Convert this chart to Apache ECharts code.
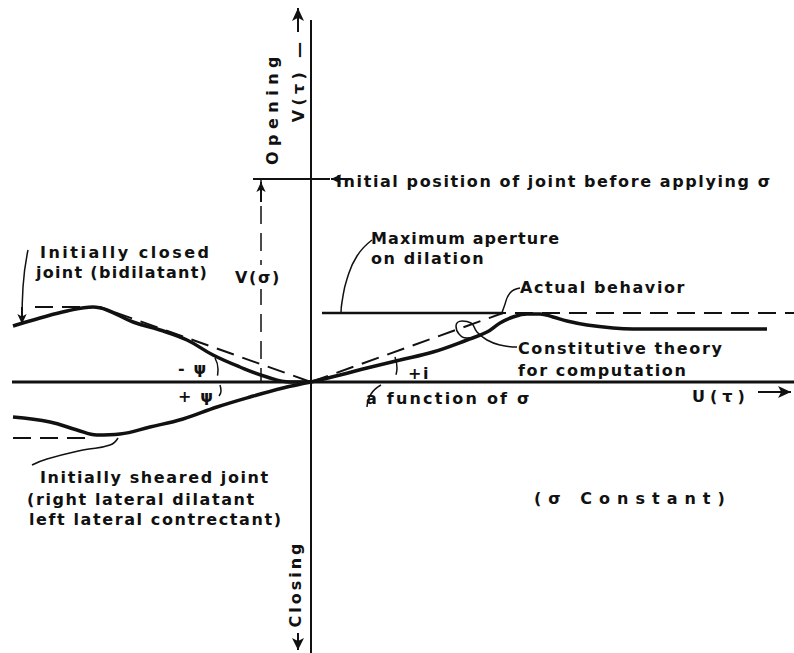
<!DOCTYPE html>
<html>
<head>
<meta charset="utf-8">
<title>Joint opening vs shear</title>
<script src="https://cdn.jsdelivr.net/npm/echarts@6/dist/echarts.min.js"></script>
<style>
  html, body { margin: 0; padding: 0; background: #fff; }
  #chart { width: 794px; height: 653px; }
  #chart text { letter-spacing: 1.6px; }
</style>
</head>
<body>
<div id="chart"></div>
<script>
// u = shear displacement, v = normal displacement (opening positive)
var uAxis = [[-299, 0], [483, 0]]
var vAxis = [[0, 362], [0, -271]]

var actualBehavior = [[0, 0], [29, 7], [56, 14], [89, 22], [122, 30], [156, 42], [176, 50], [189, 59],
  [202, 65], [216, 68], [229, 68], [242, 65], [256, 61], [276, 57], [302, 54], [322, 53], [456, 53]]
var constitutiveTheory = [[0, 0], [192, 69], [483, 69]]
var maxAperture = [[11, 69], [192, 69]]

var closedJoint = [[-298, 56], [-271, 64], [-244, 71], [-218, 75], [-204, 72], [-178, 60], [-151, 52],
  [-124, 42], [-98, 27], [-71, 15], [-44, 5], [-21, 0], [0, 0]]
var closedJointTheory = [[-276, 75], [-211, 75], [0, 0]]

var shearedJoint = [[-298, -35], [-261, -40], [-234, -48], [-214, -53], [-191, -52], [-161, -45],
  [-128, -37], [-94, -25], [-61, -15], [-28, -6], [0, 0]]
var shearedResidual = [[-298, -56], [-226, -56]]

var initialPosition = [[-58, 203], [19, 203]]
var vSigma = [[-50, 203], [-50, 0]]

var angleNegPsi = [[-96, 24], [-93, 13], [-94, 3]]
var anglePosPsi = [[-91, -3], [-90, -9], [-92, -14]]
var angleI = [[84, 25], [86, 14], [84, 4]]

var leaderMaxAperture = [[61, 142], [46, 126], [36, 103], [31, 80], [30, 69]]
var leaderActual = [[209, 94], [199, 89], [193, 75], [191, 69]]
var leaderTheory = [[206, 35], [189, 37], [176, 42], [166, 50], [160, 59], [151, 61], [145, 56],
  [148, 48], [156, 44], [165, 45]]
var leaderClosed = [[-283, 132], [-288, 95], [-289, 62]]
var leaderSheared = [[-279, -83], [-264, -77], [-228, -68], [-201, -63], [-193, -56]]
var leaderFunction = [[56, -25], [60, -12], [70, -3]]

var ink = '#111'
var font = 'bold 16px "DejaVu Sans"'

// letter spacing of the lettering, px (default in the css above)
var spacing = {
  'Opening': 5.5,
  'V(τ) —': 4.3,
  'Closing': 3,
  'U(τ)': 5,
  '(σ Constant)': 7,
  'Initially closed': 2.5,
  'a function of σ': 2.2,
  'Maximum aperture': 1.1,
  'joint (bidilatant)': 1.3
}

function path(data, opts) {
  opts = opts || {}
  return {
    type: 'line',
    data: data,
    symbol: 'none',
    smooth: opts.smooth || false,
    silent: true,
    lineStyle: {
      color: ink,
      width: opts.width || 2,
      type: opts.dashed ? [18, 9] : 'solid'
    },
    z: opts.z || 2
  }
}

function arrow(from, to, size) {
  return [
    { coord: from, symbol: 'none' },
    { coord: to, symbol: 'arrow', symbolSize: size || [9, 13] }
  ]
}

function text(str, x, y, rot, align) {
  return {
    type: 'text',
    x: x,
    y: y,
    rotation: rot || 0,
    style: {
      text: str,
      font: font,
      fill: ink,
      align: align || 'left',
      verticalAlign: 'middle'
    },
    z: 10
  }
}

var chart = echarts.init(document.getElementById('chart'), null, { renderer: 'svg' })

chart.setOption({
  animation: false,
  backgroundColor: '#fff',
  grid: { left: 0, right: 0, top: 0, bottom: 0 },
  xAxis: { type: 'value', min: -311, max: 483, show: false },
  yAxis: { type: 'value', min: -271, max: 382, show: false },
  series: [
    path(uAxis, { width: 2.8 }),
    path(vAxis, { width: 2 }),
    path(initialPosition, { width: 2 }),
    path(vSigma, { width: 1.5, dashed: true }),
    path(maxAperture, { width: 2.5 }),
    path(constitutiveTheory, { width: 2, dashed: true }),
    path(actualBehavior, { width: 3.5, smooth: 0.4, z: 3 }),
    path(closedJointTheory, { width: 2, dashed: true }),
    path(closedJoint, { width: 3.5, smooth: 0.4, z: 3 }),
    path(shearedResidual, { width: 2, dashed: true }),
    path(shearedJoint, { width: 3.5, smooth: 0.4, z: 3 }),
    path(angleNegPsi, { width: 1.5, dashed: true, smooth: true }),
    path(anglePosPsi, { width: 1.5, smooth: true }),
    path(angleI, { width: 1.5, dashed: true, smooth: true }),
    path(leaderMaxAperture, { width: 1.5, smooth: 0.5 }),
    path(leaderActual, { width: 1.5, smooth: 0.5 }),
    path(leaderTheory, { width: 1.5, smooth: 0.5 }),
    path(leaderClosed, { width: 1.5, smooth: 0.5 }),
    path(leaderSheared, { width: 1.5, smooth: 0.5 }),
    path(leaderFunction, { width: 1.5, smooth: 0.5 }),
    {
      // arrow heads
      type: 'line',
      data: [],
      silent: true,
      markLine: {
        silent: true,
        animation: false,
        label: { show: false },
        lineStyle: { color: ink, width: 2, type: 'solid' },
        data: [
          arrow([-13, 350], [-13, 374]),
          arrow([-13, -251], [-13, -268], [9, 12]),
          arrow([447, -10], [480, -10]),
          arrow([-50, 180], [-50, 200], [7, 10]),
          arrow([-289, 75], [-289, 58], [7, 10]),
          arrow([40, 203], [20, 203], [7, 10])
        ]
      }
    }
  ],
  graphic: [
    text('Opening', 272, 108, Math.PI / 2, 'center'),
    text('V(τ) —', 298, 80, Math.PI / 2, 'center'),
    text('Closing', 295, 584, Math.PI / 2, 'center'),
    text('Initial position of joint before applying σ', 336, 181),
    text('Maximum aperture', 371, 238),
    text('on dilation', 371, 258),
    text('Actual behavior', 520, 287),
    text('Constitutive theory', 518, 348),
    text('for computation', 518, 370),
    text('a function of σ', 366, 398),
    text('U(τ)', 692, 396),
    text('(σ Constant)', 534, 498),
    text('Initially closed', 40, 252),
    text('joint (bidilatant)', 36, 272),
    {
      type: 'text', x: 258, y: 277,
      style: { text: 'V(σ)', font: font, fill: ink, align: 'center', verticalAlign: 'middle',
        backgroundColor: '#fff', padding: [4, 1] },
      z: 10
    },
    text('- ψ', 178, 368),
    text('+ ψ', 178, 396),
    text('+i', 408, 373),
    text('Initially sheared joint', 40, 477),
    text('(right lateral dilatant', 27, 499),
    text('left lateral contrectant)', 29, 519)
  ]
})

function applySpacing() {
  var nodes = document.querySelectorAll('#chart text')
  for (var i = 0; i < nodes.length; i++) {
    var s = spacing[nodes[i].textContent]
    if (s != null) nodes[i].style.letterSpacing = s + 'px'
  }
}
chart.on('finished', applySpacing)
applySpacing()
</script>
</body>
</html>
